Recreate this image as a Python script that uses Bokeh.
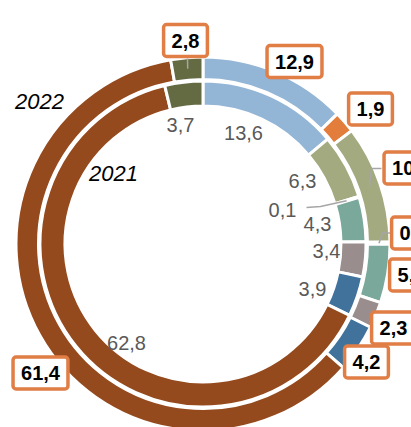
import numpy as np
from bokeh.plotting import figure
from bokeh.models import Range1d, ColumnDataSource
from bokeh.core.properties import value
from bokeh.embed import file_html
from bokeh.resources import INLINE

# ---- data ----
segments = ["s1", "s2", "s3", "s4", "s5", "s6", "s7", "s8", "s9"]
values_2021 = [13.6, 0.0, 6.3, 0.1, 4.3, 3.4, 3.9, 62.8, 3.7]
values_2022 = [12.9, 1.9, 10.3, 0.2, 5.1, 2.3, 4.2, 61.4, 2.8]
year_labels = ["2021", "2022"]

# ---- styles ----
colors = ["#93B5D6", "#E27D3C", "#A4AA7F", "#BFBFBF", "#7AA89B",
          "#9A8D8D", "#41729B", "#944A1D", "#646B43"]
ORANGE = "#E07E45"
FONT = value("Liberation Sans")

# geometry in reference pixels
CX, CY = 202.5, 243.5
def to_d(x, y):
    return x - CX, CY - y

W, H = 411, 427
p = figure(width=W, height=H, output_backend="svg", toolbar_location=None,
           x_range=Range1d(-CX, W - CX), y_range=Range1d(CY - H, CY),
           x_axis_location=None, y_axis_location=None, min_border=0)
p.grid.visible = False
p.outline_line_color = None
p.background_fill_color = "white"

rings = {"2021": (138.0, 163.0, values_2021), "2022": (164.5, 187.0, values_2022)}

def angles(vals):
    v = np.array(vals, dtype=float)
    tot = v.sum()
    end = np.cumsum(v) / tot
    start = end - v / tot
    return start, end

for yr, (r0, r1, vals) in rings.items():
    s, e = angles(vals)
    keep = np.array(vals) > 0
    src = ColumnDataSource(dict(
        start=(np.pi / 2 - 2 * np.pi * e)[keep],
        end=(np.pi / 2 - 2 * np.pi * s)[keep],
        color=np.array(colors)[keep],
    ))
    p.annular_wedge(x=0, y=0, inner_radius=r0, outer_radius=r1,
                    start_angle="start", end_angle="end", fill_color="color",
                    line_color="white", line_width=3, source=src)

def anchor(vals, i, r):
    s, e = angles(vals)
    a = 2 * np.pi * (s[i] + e[i]) / 2
    return r * np.sin(a), r * np.cos(a)

# leader lines
LEAD = "#A6A6A6"
def leader(vals, i, r, pts):
    ax, ay = anchor(vals, i, r)
    xs = [ax] + [to_d(*q)[0] for q in pts]
    ys = [ay] + [to_d(*q)[1] for q in pts]
    p.line(xs, ys, line_color=LEAD, line_width=1.5)

leader(values_2022, 2, 176, [(371, 168), (381, 168)])
leader(values_2022, 3, 176, [(382, 232.5), (391, 232.5)])
leader(values_2022, 8, 176, [(187, 58)])
leader(values_2021, 3, 150, [(320, 206), (306, 207)])

# inner labels (2021)
inner_pos = [(243, 132), None, (302, 180), (282, 209), (317, 223),
             (326, 250), (312, 288), (126, 342), (180, 124)]
ix, iy, it = [], [], []
for v, pos in zip(values_2021, inner_pos):
    if pos is None:
        continue
    x, y = to_d(*pos)
    ix.append(x); iy.append(y); it.append(f"{v:.1f}".replace(".", ","))
p.text(x=ix, y=iy, text=it, text_font=FONT, text_font_size="20px",
       text_color="#595959", text_align="center", text_baseline="middle")

# outer labels (2022)
outer_pos = [(294, 61), (370, 108.5), (411, 167.5), (413, 232.5), (411, 274.5),
             (393, 327.5), (366, 361.5), (40, 372.5), (185, 40)]
ox, oy, ot = [], [], []
for v, pos in zip(values_2022, outer_pos):
    x, y = to_d(*pos)
    ox.append(x); oy.append(y); ot.append(f"{v:.1f}".replace(".", ","))
p.text(x=ox, y=oy, text=ot, text_font=FONT, text_font_size="20px",
       text_font_style="bold", text_color="black", text_align="center",
       text_baseline="middle", background_fill_color="white",
       border_line_color=ORANGE, border_line_width=3.5, border_radius=3,
       padding=dict(left=8, right=8, top=9, bottom=9))

# year labels
yx, yy = zip(*[to_d(113, 173), to_d(39, 101)])
p.text(x=list(yx), y=list(yy), text=year_labels, text_font=FONT,
       text_font_size="22px", text_font_style="italic", text_color="black",
       text_align="center", text_baseline="middle")

open("out.html", "w").write(file_html(p, INLINE))
